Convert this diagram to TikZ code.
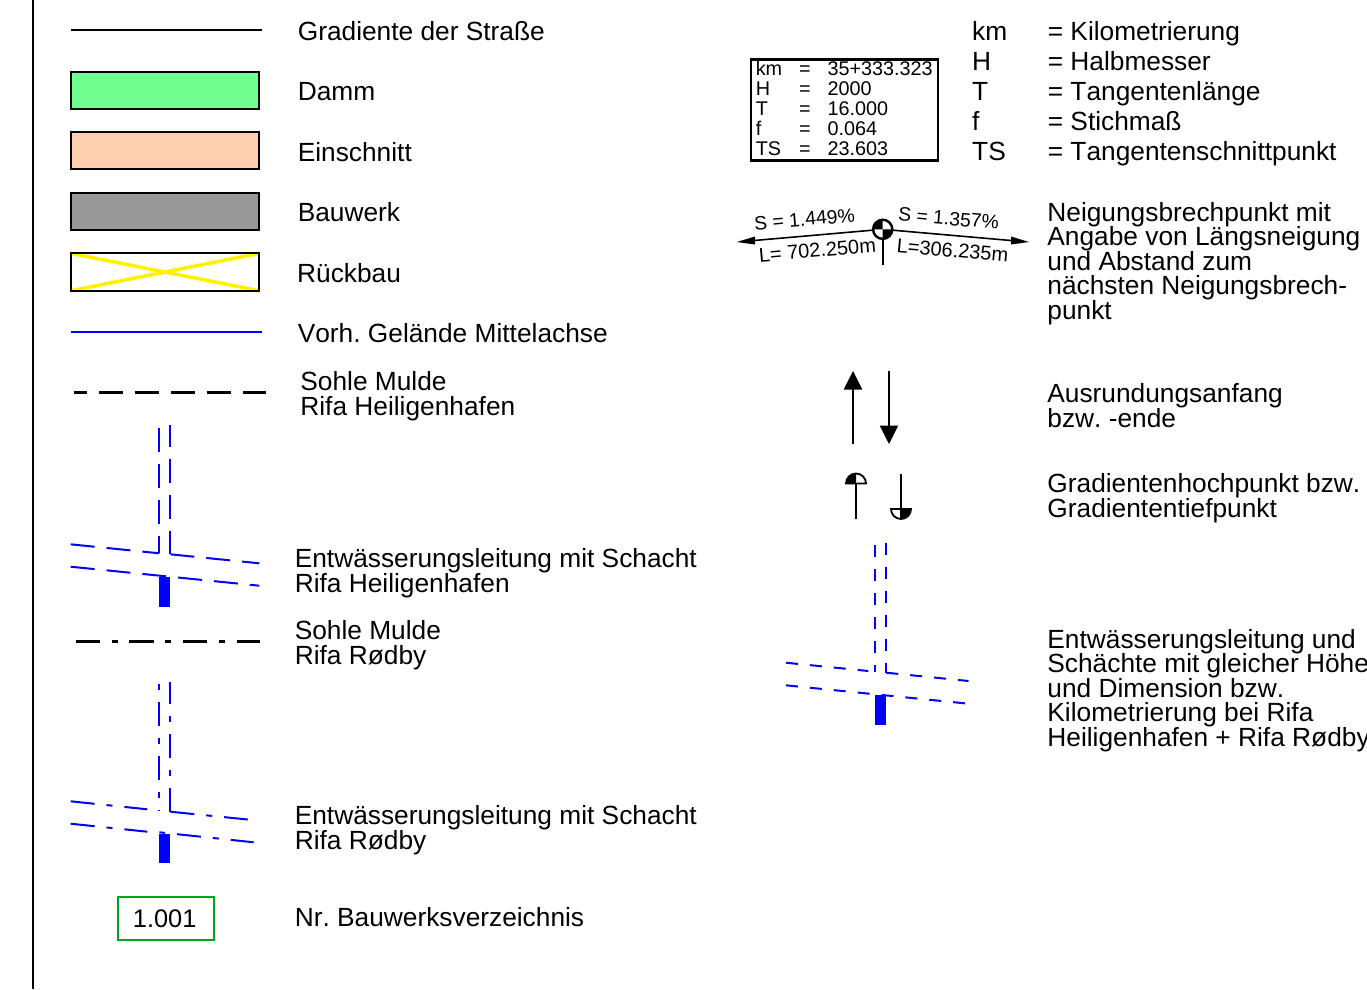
\documentclass[tikz,border=0pt]{standalone}
\usepackage{fontspec}
\setmainfont[Kerning=Off]{Liberation Sans}
\frenchspacing
\lineskiplimit=-20pt
\normallineskiplimit=-20pt
\tikzset{
  x=1pt,y=-1pt,
  lab/.style={anchor=base west,inner sep=0pt,align=left,font=\fontsize{26.3}{24.5}\selectfont},
  tab/.style={anchor=base west,inner sep=0pt,font=\fontsize{19.8}{20}\selectfont},
  slope/.style={anchor=base,inner sep=0pt,font=\fontsize{19.4}{20}\selectfont},
  slopel/.style={anchor=base,inner sep=0pt,font=\fontsize{20}{20}\selectfont},
  legbox/.style={draw=black,line width=2.2pt,minimum width=188pt,minimum height=36.5pt,inner sep=0pt,anchor=north west},
  pipedash/.style={blue,line width=2pt,dash pattern=on 24 off 12},
  pipedot/.style={blue,line width=2pt,dash pattern=on 24 off 12 on 6 off 12},
  pipeshort/.style={blue,line width=2pt,dash pattern=on 12 off 12},
  tipline/.style={line width=1.6pt}
}
\begin{document}
\begin{tikzpicture}
\useasboundingbox (0,0) rectangle (1367,989);
\coordinate (ba) at (33,0); \coordinate (bb) at (33,989);
\draw[line width=2pt] (ba) -- (bb);
% legend samples
\coordinate (g1) at (70.6,30); \coordinate (g2) at (262,30);
\draw[line width=2.2pt] (g1) -- (g2);
\node[legbox,fill={rgb,255:red,112;green,255;blue,144}] (damm) at (69.6,71.2) {};
\node[legbox,fill={rgb,255:red,255;green,208;blue,176}] (einschnitt) at (69.6,131.2) {};
\node[legbox,fill={rgb,255:red,153;green,153;blue,153}] (bauwerk) at (69.6,192.2) {};
\node[minimum width=188.6pt,minimum height=37.5pt,inner sep=0pt,outer sep=0pt,anchor=north west] (rueckbau) at (70.6,253.3) {};
\draw[yellow,line width=3.6pt] (rueckbau.north west) -- (rueckbau.south east) (rueckbau.south west) -- (rueckbau.north east);
\draw[line width=2.2pt] (rueckbau.north west) rectangle (rueckbau.south east);
\coordinate (v1) at (70.6,332); \coordinate (v2) at (262,332);
\draw[blue,line width=1.1pt] (v1) -- (v2);
\coordinate (s1) at (74,392.7); \coordinate (s2) at (266,392.7);
\draw[line width=3pt,dash pattern=on 24 off 12,dash phase=11.3] (s1) -- (s2);
\coordinate (r1) at (75.7,641.5); \coordinate (r2) at (260,641.5);
\draw[line width=3pt,dash pattern=on 24.3 off 11.7 on 6 off 11.7] (r1) -- (r2);
% legend labels
\node[lab] (t1) at (297.6,40) {Gradiente der Straße};
\node[lab] (t2) at (297.6,100) {Damm};
\node[lab] (t3) at (297.6,161) {Einschnitt};
\node[lab] (t4) at (297.6,221) {Bauwerk};
\node[lab] (t5) at (297,282) {Rückbau};
\node[lab] (t6) at (297.6,342) {Vorh. Gelände Mittelachse};
\node[lab] (t7) at (300.2,415) {Sohle Mulde\\Rifa Heiligenhafen};
\node[lab] (t8) at (294.6,592) {Entwässerungsleitung mit Schacht\\Rifa Heiligenhafen};
\node[lab] (t9) at (294.6,664) {Sohle Mulde\\Rifa Rødby};
\node[lab] (t10) at (294.6,849) {Entwässerungsleitung mit Schacht\\Rifa Rødby};
\node[lab] (t11) at (294.6,926) {Nr. Bauwerksverzeichnis};
\node[draw={rgb,255:red,0;green,165;blue,30},line width=2pt,minimum width=96pt,minimum height=43pt,inner sep=0pt,font=\fontsize{25.4}{26}\selectfont] (nr) at (166.2,918.7) {\kern-3pt 1.001};
% T 1
\coordinate (a1) at (159.4,428); \coordinate (a2) at (159.4,553.3); \coordinate (a3) at (70.7,544.3);
\draw[pipedash] (a1) -- (a2);
\draw[pipedash] (a3) -- (a2);
\coordinate (a4) at (170.4,425); \coordinate (a5) at (170.4,554.3); \coordinate (a6) at (259.3,563.3);
\draw[pipedash,dash phase=2.3] (a4) -- (a5);
\draw[pipedash] (a5) -- (a6);
\coordinate (a7) at (70.7,566.7); \coordinate (a8) at (259.3,585.7);
\draw[pipedash] (a7) -- (a8);
\fill[blue] (159.4,576.7) rectangle (170.4,606.7);
% T 2
\coordinate (b1) at (159.4,684.3); \coordinate (b2) at (159.4,811); \coordinate (b3) at (70.7,801.3); \coordinate (b3e) at (147.3,809.3);
\draw[pipedot,dash phase=36] (b1) -- (b2);
\draw[pipedot] (b3) -- (b3e);
\coordinate (b4) at (170.4,681.7); \coordinate (b5) at (170.4,811.7); \coordinate (b6) at (247.7,819.5);
\draw[pipedot,dash phase=1.7] (b4) -- (b5);
\draw[pipedot] (b5) -- (b6);
\coordinate (b7) at (70.7,823.7); \coordinate (b8) at (147.3,831.7);
\draw[pipedot] (b7) -- (b8);
\coordinate (b9) at (159.4,832.3); \coordinate (b10) at (253.7,842.3);
\draw[pipedot,dash phase=36.3] (b9) -- (b10);
\fill[blue] (159.4,834) rectangle (170.4,863.3);
% T 3
\coordinate (c1) at (875,545); \coordinate (c2) at (875,672); \coordinate (c3) at (786,662.7); \coordinate (c3e) at (868.3,671);
\draw[pipeshort] (c1) -- (c2);
\draw[pipeshort] (c3) -- (c3e);
\coordinate (c4) at (886.3,543.3); \coordinate (c5) at (886.3,672.7); \coordinate (c6) at (968.5,681);
\draw[pipeshort] (c4) -- (c5);
\draw[pipeshort] (c5) -- (c6);
\coordinate (c7) at (786,685.3); \coordinate (c8) at (976.5,704.5);
\draw[pipeshort] (c7) -- (c8);
\fill[blue] (875,695) rectangle (886.3,725);
% table
\node[draw,line width=2.5pt,minimum width=187pt,minimum height=101pt,inner sep=0pt,anchor=north west] (tbl) at (749.6,58.2) {};
\foreach \n/\a/\b/\y in {k/km/35+333.323/75,h/H/2000/95,t/T/16.000/115,f/f/0.064/135.5,s/TS/23.603/155}{
  \node[tab] (ta\n) at (755.6,\y) {\a};
  \node[tab] (tb\n) at (799,\y) {=};
  \node[tab] (tc\n) at (827.4,\y) {\b};
}
% abbreviations
\foreach \n/\a/\b/\y in {k/km/Kilometrierung/40.2,h/H/Halbmesser/70.2,t/T/Tangentenlänge/100.2,f/f/Stichmaß/130.2,s/TS/Tangentenschnittpunkt/160.2}{
  \node[lab] (ra\n) at (972,\y) {\a};
  \node[lab] (rb\n) at (1047.6,\y) {= \b};
}
% break point
\coordinate (bp) at (882.7,229.3); \coordinate (bd) at (882.7,265);
\coordinate (bl) at (736.7,242); \coordinate (br) at (1029,242);
\draw[tipline] (bp) -- (bd);
\draw[tipline] (bp) -- (753,240.6);
\draw[tipline] (bp) -- (1012,240.6);
\fill (bl) -- (755,236.5) -- (755,244.5) -- cycle;
\fill (br) -- (1011,236.5) -- (1011,244.5) -- cycle;
\filldraw[fill=white,line width=2.4pt] (bp) circle[radius=9.6];
\fill (bp) -- ++(-9.6,0) arc[start angle=180,end angle=270,radius=9.6] -- cycle;
\fill (bp) -- ++(9.6,0) arc[start angle=0,end angle=90,radius=9.6] -- cycle;
\node[slope,rotate=5] (sl) at (805,226) {S = 1.449\%};
\node[slope,rotate=-5] (sr) at (948,225) {S = 1.357\%};
\node[slopel,rotate=5] (ll) at (818,257) {L= 702.250m};
\node[slopel,rotate=-5] (lr) at (952,257) {L=306.235m};
% arrows
\coordinate (u1) at (853,444); \coordinate (u2) at (853,389);
\draw[tipline] (u1) -- (u2);
\fill (853,371) -- (862.3,389.5) -- (843.7,389.5) -- cycle;
\coordinate (d1) at (889,371); \coordinate (d2) at (889,426);
\draw[tipline] (d1) -- (d2);
\fill (889,444) -- (898.3,425.5) -- (879.7,425.5) -- cycle;
% hoch / tief
\coordinate (h1) at (856,519); \coordinate (h2) at (856,483.5);
\draw[line width=2pt] (h1) -- (h2);
\draw[line width=1.8pt] (846,483.5) arc[start angle=180,end angle=360,radius=10] -- cycle;
\fill (h2) -- ++(-10,0) arc[start angle=180,end angle=270,radius=10] -- cycle;
\coordinate (p1) at (901,474); \coordinate (p2) at (901,509);
\draw[line width=2pt] (p1) -- (p2) -- ++(0,10);
\draw[line width=1.8pt] (891,509) arc[start angle=180,end angle=0,radius=10] -- cycle;
\fill (p2) -- ++(10,0) arc[start angle=0,end angle=90,radius=10] -- cycle;
% right labels
\node[lab] (q1) at (1047.2,319) {Neigungsbrechpunkt mit\\Angabe von Längsneigung\\und Abstand zum\\nächsten Neigungsbrech-\\punkt};
\node[lab] (q2) at (1047.2,427) {Ausrundungsanfang\\bzw. -ende};
\node[lab] (q3) at (1047.2,517) {Gradientenhochpunkt bzw.\\Gradiententiefpunkt};
\node[lab] (q4) at (1047.2,746) {Entwässerungsleitung und\\Schächte mit gleicher Höhe\\und Dimension bzw.\\Kilometrierung bei Rifa\\Heiligenhafen + Rifa Rødby};
\end{tikzpicture}
\end{document}
